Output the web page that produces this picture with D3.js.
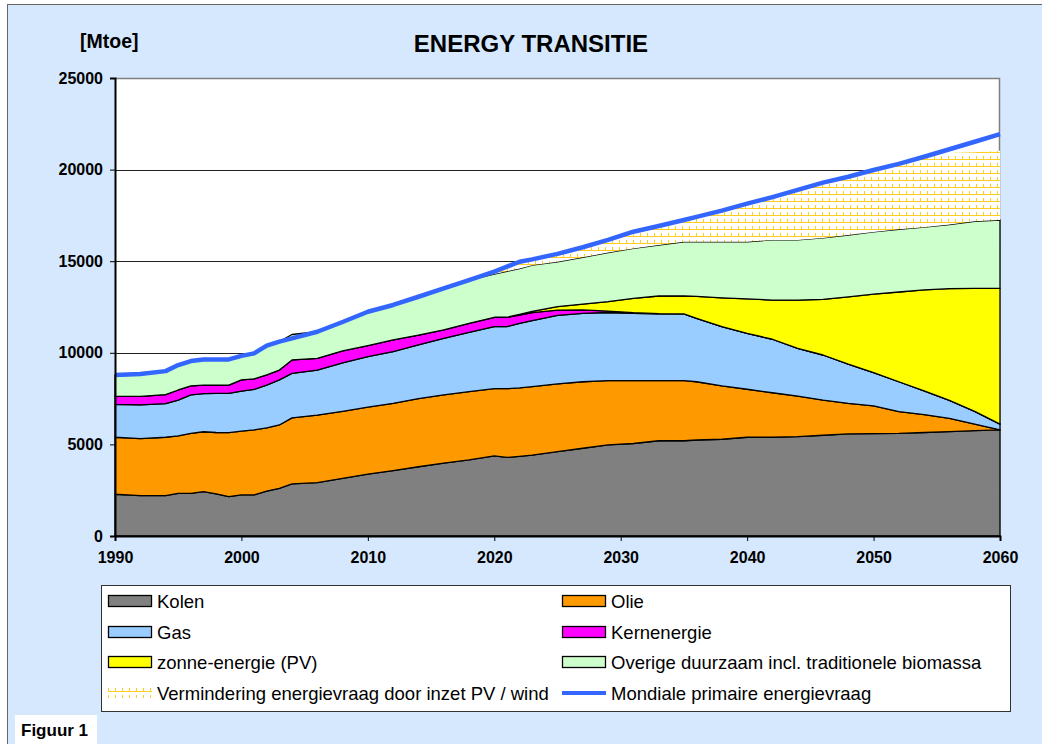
<!DOCTYPE html>
<html><head><meta charset="utf-8">
<script src="https://cdn.jsdelivr.net/npm/d3@7"></script>
<style>
html,body{margin:0;padding:0;background:#fff;}
text{font-family:"Liberation Sans",Arial,sans-serif;}
</style></head>
<body>
<svg id="chart" width="1042" height="744"></svg>
<script>
const years = [1990,1992,1994,1995,1996,1997,1998,1999,2000,2001,2002,2003,2004,2006,2008,2010,2012,2014,2016,2018,2020,2021,2022,2023,2025,2027,2029,2031,2033,2035,2036,2038,2040,2042,2044,2046,2048,2050,2052,2054,2056,2058,2060];
const kolen   = [2280,2200,2200,2330,2330,2420,2300,2150,2240,2240,2450,2600,2840,2910,3150,3380,3570,3780,3980,4150,4370,4290,4350,4420,4600,4790,4970,5050,5200,5200,5240,5280,5390,5390,5420,5500,5570,5590,5600,5650,5700,5750,5790];
const olie    = [3110,3110,3190,3130,3270,3270,3350,3490,3480,3550,3450,3460,3610,3690,3650,3650,3670,3720,3720,3730,3670,3750,3730,3730,3700,3630,3510,3430,3280,3280,3180,2910,2620,2430,2220,1920,1670,1510,1190,980,720,360,0];
const gas     = [1800,1850,1840,1960,2100,2080,2130,2150,2190,2210,2340,2460,2430,2460,2650,2760,2820,2930,3090,3240,3390,3390,3530,3610,3740,3730,3720,3670,3640,3640,3460,3240,3050,2920,2600,2460,2140,1820,1630,1290,980,690,320];
const kern    = [450,460,490,550,490,470,460,450,610,580,560,540,730,640,650,600,640,540,460,490,510,510,450,430,290,190,80,40,15,0,0,0,0,0,0,0,0,0,0,0,0,0,0];
const zon     = [0,0,0,0,0,0,0,0,0,0,0,0,0,0,0,0,0,0,0,0,0,0,40,70,190,320,510,780,965,980,1200,1570,1880,2140,2640,3040,3670,4280,4900,5510,6100,6720,7410];
const overige = [1150,1220,1280,1360,1360,1400,1400,1400,1310,1390,1590,1550,1390,1450,1580,1850,1910,2090,2270,2360,2360,2510,2500,2520,2450,2550,2680,2730,2780,2960,2980,3060,3120,3280,3280,3350,3380,3400,3420,3430,3500,3660,3730];
const vermindering = [0,0,0,0,0,0,0,0,0,0,0,0,0,0,0,0,0,0,0,0,130,250,370,320,430,550,690,910,1040,1190,1360,1700,2080,2340,2730,3020,3180,3380,3570,3840,3900,3770,3780];
const mondiaal = [8790,8840,9000,9330,9550,9640,9640,9640,9830,9970,10390,10610,10790,11150,11680,12240,12610,13060,13520,13970,14430,14700,14970,15100,15400,15760,16160,16610,16920,17250,17420,17760,18140,18500,18890,19290,19610,19980,20310,20700,21110,21520,21940];
const yTicks = [0,5000,10000,15000,20000,25000];
const xTicks = [1990,2000,2010,2020,2030,2040,2050,2060];
const seriesNames = ["Kolen","Olie","Gas","Kernenergie","zonne-energie (PV)","Overige duurzaam incl. traditionele biomassa","Vermindering energievraag door inzet PV / wind","Mondiale primaire energievraag"];
const colors = ["#808080","#FF9900","#99CCFF","#FF00FF","#FFFF00","#CCFFCC"];

const keys = ["kolen","olie","gas","kern","zon","overige","verm"];
const rows = years.map((yr,i)=>({year:yr,kolen:kolen[i],olie:olie[i],gas:gas[i],kern:kern[i],zon:zon[i],overige:overige[i],verm:vermindering[i]}));

const svg = d3.select("#chart");
svg.append("rect").attr("x",7.5).attr("y",4.5).attr("width",1045).attr("height",750)
  .attr("fill","#D5E8FD").attr("stroke","#666").attr("stroke-width",1);

const defs = svg.append("defs");
const pat = defs.append("pattern").attr("id","hatch").attr("patternUnits","userSpaceOnUse")
  .attr("width",7).attr("height",7);
pat.append("rect").attr("width",7).attr("height",7).attr("fill","#fff");
pat.append("line").attr("x1",0).attr("x2",7).attr("y1",5.5).attr("y2",5.5).attr("stroke","#FFCC22").attr("stroke-width",1);
pat.append("line").attr("x1",3.5).attr("x2",3.5).attr("y1",2).attr("y2",6).attr("stroke","#FFCC22").attr("stroke-width",1);

const x = d3.scaleLinear().domain([1990,2060]).range([115,1000]);
const y = d3.scaleLinear().domain([0,25000]).range([536,78]);

svg.append("rect").attr("x",115).attr("y",78).attr("width",885).attr("height",458).attr("fill","#fff");
svg.append("g").selectAll("line").data(yTicks.filter(d=>d>0&&d<25000)).join("line")
  .attr("x1",115).attr("x2",1000).attr("y1",d=>Math.round(y(d))+0.5).attr("y2",d=>Math.round(y(d))+0.5)
  .attr("stroke","#222").attr("stroke-width",1);
svg.append("path").attr("d",`M115,78.5H999.5V536`).attr("fill","none").attr("stroke","#808080").attr("stroke-width",1.5);

const stack = d3.stack().keys(keys);
const layers = stack(rows);
const area = d3.area().x(d=>x(d.data.year)).y0(d=>y(d[0])).y1(d=>y(d[1]));

layers.forEach((L,i)=>{
  if (L.key==="verm"){
    svg.append("path").datum(L).attr("d",area).attr("fill","url(#hatch)").attr("stroke","none");
  } else {
    svg.append("path").datum(L).attr("d",area).attr("fill",colors[i])
      .attr("stroke","#000").attr("stroke-width",1.3).attr("stroke-linejoin","round");
  }
});

const line = d3.line().x((d,i)=>x(years[i])).y(d=>y(d));
svg.append("path").datum(mondiaal).attr("d",line).attr("fill","none")
  .attr("stroke","#3366FF").attr("stroke-width",4.5).attr("stroke-linejoin","round");

const yAxis = d3.axisLeft(y).tickValues(yTicks).tickSize(5).tickPadding(7).tickFormat(d3.format("d"));
const gy = svg.append("g").attr("transform","translate(115,0)").call(yAxis);
const xAxis = d3.axisBottom(x).tickValues(xTicks).tickSize(5).tickPadding(11).tickFormat(d3.format("d"));
const gx = svg.append("g").attr("transform","translate(0,536)").call(xAxis);
[gy,gx].forEach(g=>{
  g.select(".domain").attr("stroke","#000").attr("stroke-width",2);
  g.selectAll(".tick line").attr("stroke","#000").attr("stroke-width",1);
  g.selectAll("text").attr("font-family","Liberation Sans, Arial, sans-serif").attr("font-size",16).attr("font-weight","bold").attr("fill","#000");
});

svg.append("text").attr("x",531).attr("y",52).attr("text-anchor","middle").attr("font-size",24).attr("font-weight","bold").text("ENERGY TRANSITIE");
svg.append("text").attr("x",80).attr("y",48).attr("font-size",19.5).attr("font-weight","bold").text("[Mtoe]");

const lg = svg.append("g");
lg.append("rect").attr("x",101.5).attr("y",585.5).attr("width",909).attr("height",126).attr("fill","#fff").attr("stroke","#333").attr("stroke-width",1);
const rowY = [601,632,662,693];
const colX = [108,562];
const legendItems = seriesNames.map((name,i)=>({name, col:i%2, row:Math.floor(i/2), idx:i}));
legendItems.forEach(it=>{
  const sx = colX[it.col], cy = rowY[it.row];
  if (it.idx<6){
    lg.append("rect").attr("x",sx+0.5).attr("y",cy-5.5).attr("width",43).attr("height",11)
      .attr("fill",colors[it.idx]).attr("stroke","#000").attr("stroke-width",1.3);
  } else if (it.idx===6){
    lg.append("rect").attr("x",sx).attr("y",cy-6).attr("width",44).attr("height",11).attr("fill","url(#hatch)");
  } else {
    lg.append("line").attr("x1",sx).attr("x2",sx+44).attr("y1",cy).attr("y2",cy).attr("stroke","#3366FF").attr("stroke-width",4);
  }
  lg.append("text").attr("x",sx+49).attr("y",cy+6.5).attr("font-size",18.5).attr("fill","#000").text(it.name);
});

svg.append("rect").attr("x",15).attr("y",715).attr("width",82).attr("height",40).attr("fill","#fff");
svg.append("text").attr("x",21).attr("y",736).attr("font-size",17).attr("font-weight","bold").text("Figuur 1");
</script>
</body></html>
